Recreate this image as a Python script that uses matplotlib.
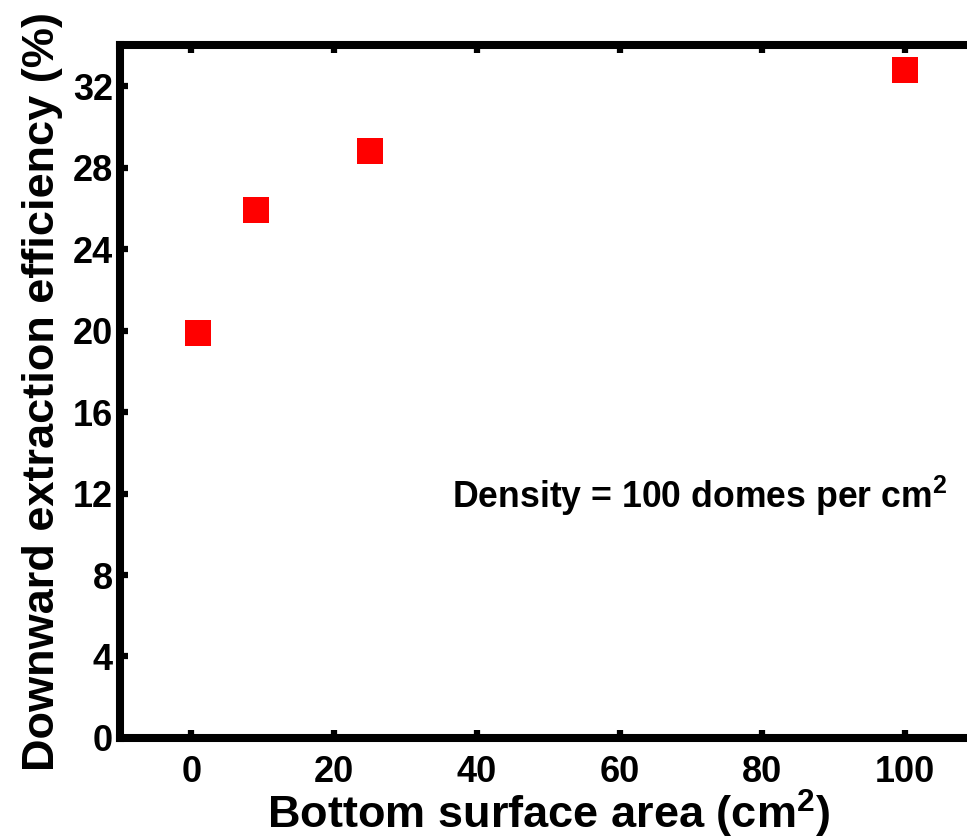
import matplotlib
matplotlib.use("Agg")
import matplotlib.pyplot as plt
from matplotlib.ticker import MultipleLocator

# Downward extraction efficiency vs bottom surface area
area_cm2 = [1, 9, 25, 100]
efficiency_pct = [19.9, 25.9, 28.8, 32.8]

xticks = [0, 20, 40, 60, 80, 100]
yticks = [0, 4, 8, 12, 16, 20, 24, 28, 32]

plt.rcParams['font.family'] = ['Liberation Sans', 'DejaVu Sans']
plt.rcParams['font.weight'] = 'bold'
plt.rcParams['mathtext.fontset'] = 'custom'
plt.rcParams['mathtext.rm'] = 'Liberation Sans:bold'
plt.rcParams['mathtext.bf'] = 'Liberation Sans:bold'
plt.rcParams['mathtext.default'] = 'bf'

fig = plt.figure(figsize=(9.67, 8.39), dpi=100)
ax = fig.add_axes([0.124, 0.1204, 0.886, 0.8256])

ax.plot(area_cm2, efficiency_pct, linestyle='none', marker='s',
        markersize=18.5, color='#ff0000', markeredgewidth=0)

ax.set_xlim(-10, 110)
ax.set_ylim(0, 34)
ax.set_xticks(xticks)
ax.set_yticks(yticks)
ax.xaxis.set_minor_locator(MultipleLocator(10))
ax.yaxis.set_minor_locator(MultipleLocator(2))

for s in ax.spines.values():
    s.set_linewidth(5.8)
    s.set_color('black')

ax.tick_params(which='major', direction='in', length=6, width=4.5,
               labelsize=26, top=True, right=True)
ax.tick_params(axis='x', which='major', pad=12)
ax.tick_params(axis='y', which='major', pad=5)
ax.tick_params(which='minor', direction='in', length=2, width=2.5,
               top=True, right=True, color='#bbbbbb')
for lab in ax.get_xticklabels() + ax.get_yticklabels():
    lab.set_fontweight('bold')

ax.set_xlabel(r'Bottom surface area (cm$^{2}$)', fontsize=32.5,
              fontweight='bold', labelpad=-1)
ax.set_ylabel('Downward extraction efficiency (%)', fontsize=32.5,
              fontweight='bold', labelpad=7)

ax.text(0.966, 0.35, r'Density = 100 domes per cm$^{2}$',
        transform=ax.transAxes, ha='right', va='center',
        fontsize=25.7, fontweight='bold')

fig.savefig('out.png', dpi=100)
